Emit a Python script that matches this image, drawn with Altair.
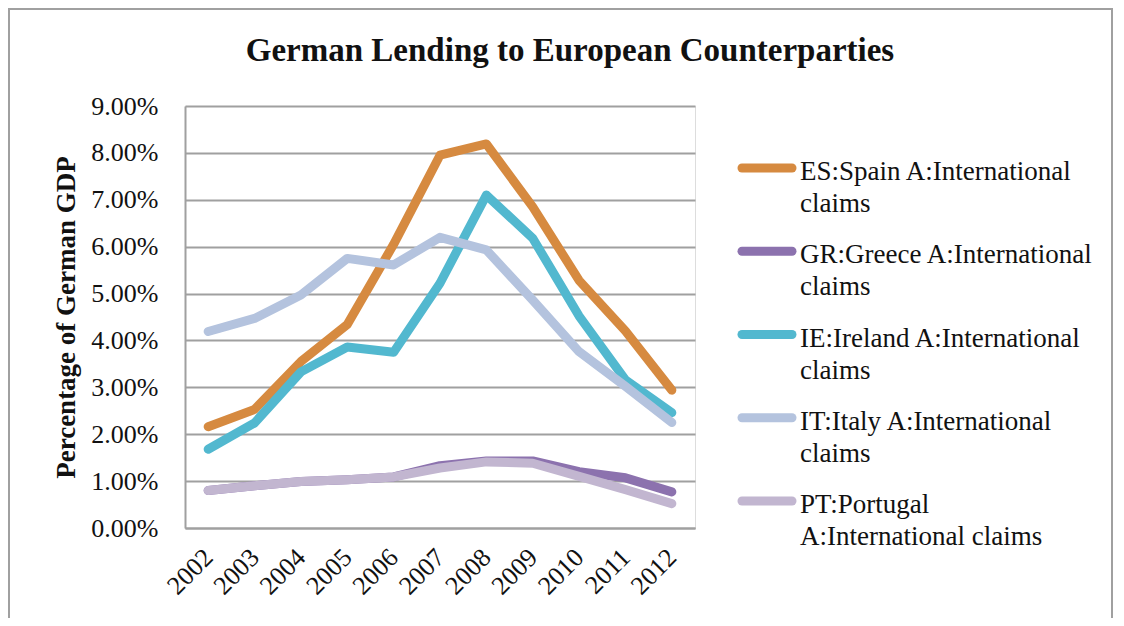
import altair as alt
import pandas as pd

years = [str(y) for y in range(2002, 2013)]
series_names = [
    "ES:Spain A:International claims",
    "GR:Greece A:International claims",
    "IE:Ireland A:International claims",
    "IT:Italy A:International claims",
    "PT:Portugal A:International claims",
]
legend_labels = [
    "ES:Spain A:International|claims",
    "GR:Greece A:International|claims",
    "IE:Ireland A:International|claims",
    "IT:Italy A:International|claims",
    "PT:Portugal|A:International claims",
]
spain = [2.16, 2.53, 3.55, 4.34, 6.05, 7.95, 8.19, 6.85, 5.28, 4.20, 2.94]
greece = [0.80, 0.90, 0.99, 1.03, 1.09, 1.33, 1.43, 1.43, 1.20, 1.07, 0.77]
ireland = [1.68, 2.24, 3.33, 3.86, 3.75, 5.22, 7.10, 6.18, 4.52, 3.16, 2.46]
italy = [4.19, 4.47, 4.97, 5.75, 5.61, 6.20, 5.93, 4.86, 3.76, 3.02, 2.25]
portugal = [0.80, 0.90, 0.99, 1.03, 1.09, 1.28, 1.41, 1.38, 1.10, 0.82, 0.52]
colors = ["#D68A40", "#8C72AE", "#52B8CF", "#B4C3DE", "#C2B6D0"]

rows = []
for name, vals in zip(series_names, [spain, greece, ireland, italy, portugal]):
    for yr, v in zip(years, vals):
        rows.append({"year": yr, "series": name, "value": v / 100.0})
df = pd.DataFrame(rows)
legend_df = pd.DataFrame({"series": series_names, "label": legend_labels,
                          "idx": list(range(len(series_names)))})

FONT = "Liberation Serif"
GRID = "#A0A0A0"
color_scale = alt.Scale(domain=series_names, range=colors)

lines = alt.Chart(df).mark_line(strokeWidth=9, strokeCap="round", strokeJoin="round").encode(
    x=alt.X("year:O", sort=years, title=None,
            scale=alt.Scale(paddingOuter=0.5, paddingInner=0),
            axis=alt.Axis(labelAngle=-45, labelAlign="right", labelBaseline="middle",
                          labelFont=FONT, labelFontSize=26, labelColor="#111",
                          labelPadding=25, ticks=False, domainColor=GRID,
                          domainWidth=2, grid=False)),
    y=alt.Y("value:Q", title="Percentage of German GDP",
            scale=alt.Scale(domain=[0, 0.09], nice=False),
            axis=alt.Axis(values=[i / 100 for i in range(10)], format=".2%",
                          labelFont=FONT, labelFontSize=26, labelColor="#111",
                          labelPadding=27, ticks=False, domainColor=GRID,
                          domainWidth=2, gridColor=GRID, gridWidth=2,
                          titleFont=FONT, titleFontSize=27, titleFontWeight="bold",
                          titleColor="#111", titlePadding=10)),
    color=alt.Color("series:N", sort=series_names, scale=color_scale, legend=None),
)

legend_y = alt.Y("idx:Q", axis=None, scale=alt.Scale(domain=[0, 4], range=[62, 395]))

leg_sym = alt.Chart(legend_df).mark_rule(strokeWidth=9, strokeCap="round").encode(
    x=alt.value(557), x2=alt.value(607), y=legend_y,
    color=alt.Color("series:N", scale=color_scale, legend=None),
)

leg_txt = alt.Chart(legend_df).mark_text(
    align="left", baseline="alphabetic", lineBreak="|", lineHeight=32,
    font=FONT, fontSize=27, color="#111", dy=12
).encode(x=alt.value(615), y=legend_y, text="label:N")

legend = alt.layer(leg_sym, leg_txt)

frame = alt.Chart(pd.DataFrame({"k": [0]})).mark_rect(
    fill=None, stroke=GRID, strokeWidth=2
).encode(
    x=alt.value(-176), x2=alt.value(927), y=alt.value(-97), y2=alt.value(620)
)

title = alt.Chart(pd.DataFrame({"t": ["German Lending to European Counterparties"]})).mark_text(
    font=FONT, fontSize=33, fontWeight="bold", color="#111", align="center", baseline="alphabetic"
).encode(text="t:N", x=alt.value(385), y=alt.value(-45))

chart = alt.layer(frame, lines, legend, title).resolve_scale(y="independent").properties(
    width=510, height=422,
    autosize=alt.AutoSizeParams(type="none"),
    padding={"left": 177, "top": 98, "right": 421, "bottom": 90},
).configure_view(stroke=None).configure(background="white")

chart.save("out.html", embed_options={"renderer": "svg", "actions": False})
